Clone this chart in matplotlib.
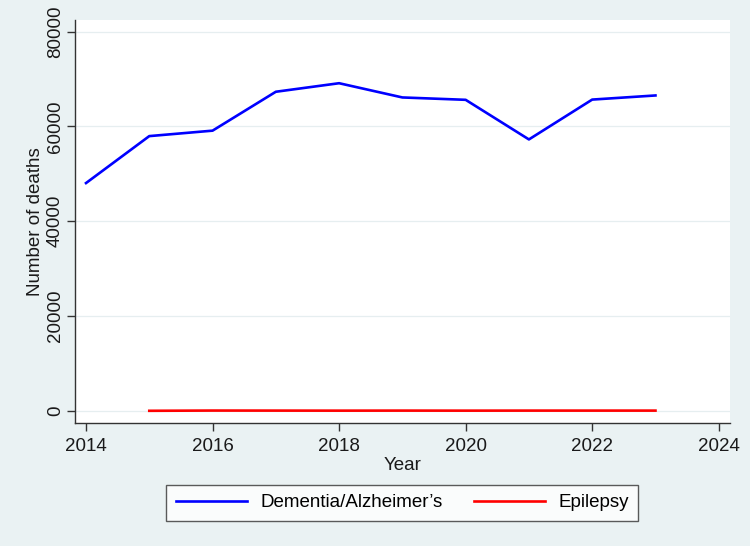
import matplotlib.pyplot as plt

years = [2014, 2015, 2016, 2017, 2018, 2019, 2020, 2021, 2022, 2023]
dementia = [48050, 57950, 59100, 67300, 69100, 66100, 65600, 57250, 65650, 66520]

epi_years = [2015, 2016, 2017, 2018, 2019, 2020, 2021, 2022, 2023]
epilepsy = [40, 90, 80, 70, 80, 70, 80, 80, 80]

xticks = [2014, 2016, 2018, 2020, 2022, 2024]
yticks = [0, 20000, 40000, 60000, 80000]

plt.rcParams['font.family'] = ['Liberation Sans', 'DejaVu Sans']

bg = '#eaf2f3'
fig = plt.figure(figsize=(7.5, 5.46), dpi=100, facecolor=bg)
ax = fig.add_axes([0.1, 0.2253, 0.873, 0.738])
ax.set_facecolor('white')

ax.plot(years, dementia, color='#0000ff', lw=1.9, label='Dementia/Alzheimer’s')
ax.plot(epi_years, epilepsy, color='#ff0000', lw=1.9, label='Epilepsy')

ax.set_xlim(2013.826, 2024.174)
ax.set_ylim(-2530, 82420)
ax.set_xticks(xticks)
ax.set_yticks(yticks)
ax.set_yticklabels([str(v) for v in yticks], rotation=90, va='center')
ax.grid(axis='y', color='#e6eef0', lw=0.9)
ax.set_axisbelow(True)

for s in ['top', 'right']:
    ax.spines[s].set_visible(False)
for s in ['left', 'bottom']:
    ax.spines[s].set_color('#333333')
    ax.spines[s].set_linewidth(1.0)

ax.tick_params(axis='both', labelsize=13.5, length=6, width=1.0, color='#333333',
               labelcolor='#1a1a1a')
ax.tick_params(axis='x', pad=5)
ax.tick_params(axis='y', pad=2)
ax.set_xlabel('Year', fontsize=13.5, color='#1a1a1a', labelpad=1)
ax.set_ylabel('Number of deaths', fontsize=13.5, color='#1a1a1a', labelpad=2)

leg = ax.legend(loc='upper center', bbox_to_anchor=(0.5, -0.153), ncol=2,
                fontsize=13.5, frameon=True, fancybox=False, handlelength=3.8,
                handletextpad=0.7, columnspacing=1.7, borderpad=0.5,
                borderaxespad=0, edgecolor='#333333')
leg.get_frame().set_linewidth(1.0)

fig.savefig('out.png', dpi=100, facecolor=bg)
